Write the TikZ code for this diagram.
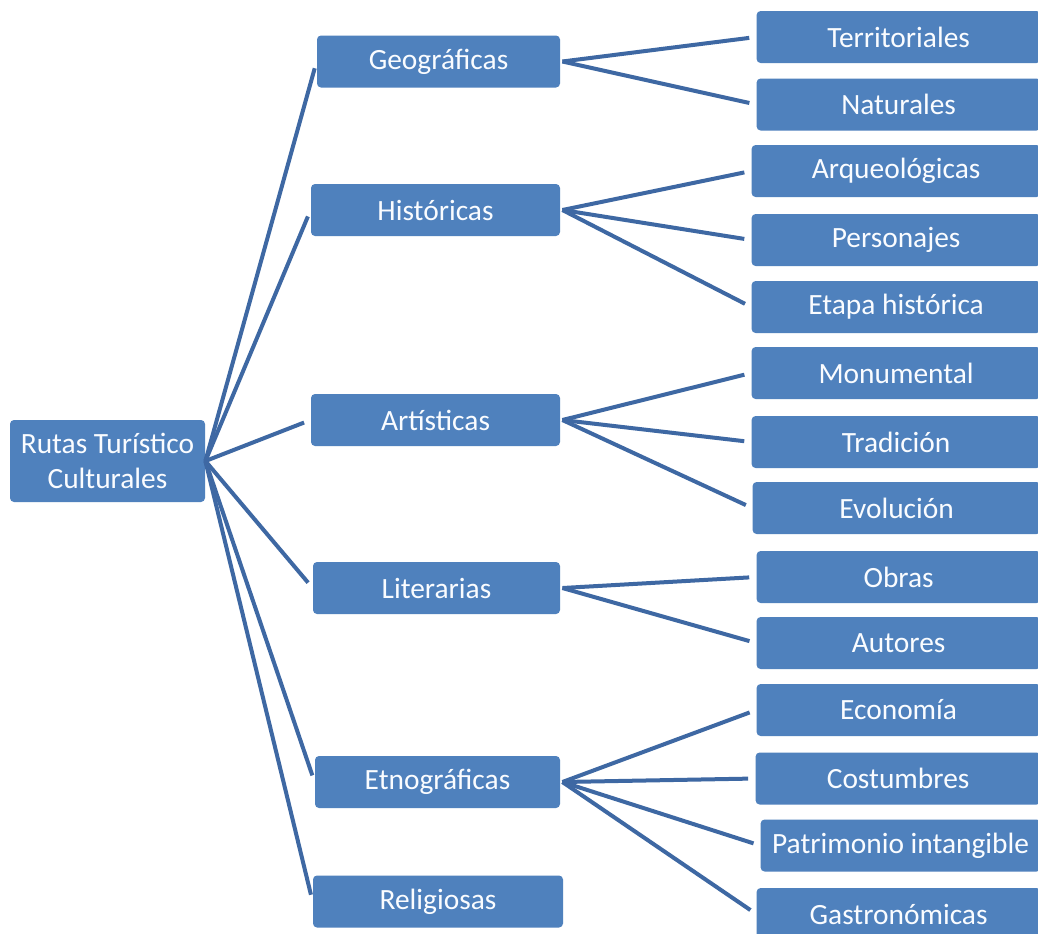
\documentclass[tikz,border=0pt]{standalone}
\usepackage{fontspec}
\setmainfont{Carlito}
\usepackage{xcolor}
\usepackage{tikz}
\usetikzlibrary{positioning, calc}
\definecolor{boxblue}{RGB}{79, 129, 189}
\definecolor{linkblue}{RGB}{62, 104, 163}
\definecolor{boxtext}{RGB}{250, 252, 255}

\begin{document}
\begin{tikzpicture}[
  x=0.5pt, y=-0.5pt,
  box/.style={fill=boxblue, rounded corners=2pt, inner sep=2pt, align=center,
    text=boxtext, font=\fontsize{14.7}{17.5}\selectfont},
  rootbox/.style={box, minimum width=97.5pt, minimum height=41pt},
  midbox/.style={box, minimum height=26pt},
  leafbox/.style={box, anchor=east, minimum height=26pt},
  link/.style={line width=2pt, draw=linkblue, shorten >=3.5pt},
]

\useasboundingbox[fill=white] (0,0) rectangle (1038,933);

% ==================== root ====================
\node[rootbox] (rutas) at (107.5, 461) {Rutas Turístico\\Culturales};

% ==================== categories ====================
\node[midbox, minimum width=121.5pt] (geo)  at (438.5, 61.5) {Geográficas};
\node[midbox, minimum width=124.5pt] (hist) at (435.5, 210)  {Históricas};
\node[midbox, minimum width=124.5pt] (art)  at (435.5, 420)  {Artísticas};
\node[midbox, minimum width=123.5pt] (lit)  at (436.5, 588)  {Literarias};
\node[midbox, minimum width=122.5pt] (etno) at (437.5, 782)  {Etnográficas};
\node[midbox, minimum width=125pt]   (rel)  at (438, 901.5)  {Religiosas};

% ==================== subtypes ====================
\node[leafbox, minimum width=142pt]   (terr)  at (1041, 37)    {Territoriales};
\node[leafbox, minimum width=142pt]   (nat)   at (1041, 104.5) {Naturales};
\node[leafbox, minimum width=144.5pt] (arq)   at (1041, 171)   {Arqueológicas};
\node[leafbox, minimum width=144.5pt] (pers)  at (1041, 240)   {Personajes};
\node[leafbox, minimum width=144.5pt] (etapa) at (1041, 307)   {Etapa histórica};
\node[leafbox, minimum width=144.5pt] (monu)  at (1041, 373)   {Monumental};
\node[leafbox, minimum width=144.5pt] (trad)  at (1041, 442)   {Tradición};
\node[leafbox, minimum width=144pt]   (evol)  at (1041, 508)   {Evolución};
\node[leafbox, minimum width=142pt]   (obras) at (1041, 577)   {Obras};
\node[leafbox, minimum width=142pt]   (aut)   at (1041, 643)   {Autores};
\node[leafbox, minimum width=142pt]   (eco)   at (1041, 710)   {Economía};
\node[leafbox, minimum width=142.5pt] (cost)  at (1041, 778.5) {Costumbres};
\node[leafbox, minimum width=140pt]   (patr)  at (1041, 845.5) {Patrimonio intangible};
\node[leafbox, minimum width=142pt]   (gast)  at (1041, 914)   {Gastronómicas};

% ==================== connectors ====================
\foreach \cat in {geo, hist, art, lit, etno, rel}
  \draw[link] (rutas.east) -- (\cat.west);

\foreach \src/\dst in {geo/terr, geo/nat,
                       hist/arq, hist/pers, hist/etapa,
                       art/monu, art/trad, art/evol,
                       lit/obras, lit/aut,
                       etno/eco, etno/cost, etno/patr, etno/gast}
  \draw[link] ($(\src.east)+(2,0)$) -- (\dst.west);

\end{tikzpicture}
\end{document}
